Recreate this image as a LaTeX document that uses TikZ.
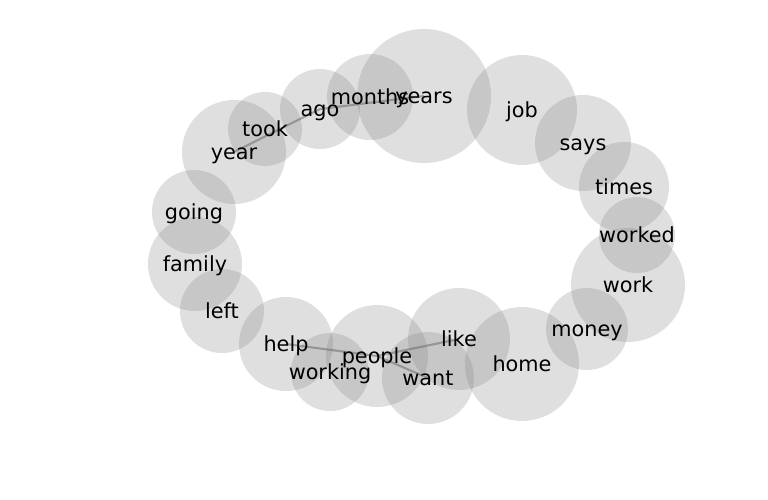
\documentclass[tikz,border=0pt]{standalone}
\usepackage{fontspec}
\setmainfont{DejaVu Sans}
\usepackage{tikz}
\definecolor{bubblegray}{RGB}{128, 128, 128}
\definecolor{linkgray}{RGB}{110, 110, 110}

\begin{document}
\begin{tikzpicture}[x=0.75pt, y=-0.75pt,
    bubble/.style={circle, inner sep=0pt, fill=bubblegray, fill opacity=0.25, minimum size=2*#1},
    word/.style={font=\fontsize{15.6}{18}\selectfont, text=black, inner sep=0pt,
      text height=13.4pt, text depth=2.2pt},
    link/.style={linkgray, line width=1.6pt, opacity=0.55}]
  \useasboundingbox (0, 0) rectangle (768, 500);

  % Bubbles
  \foreach \w/\x/\y/\r in {years/424/96/67, months/370/97/43, ago/320/109/40, took/265/129/37,
      year/234/152/52, job/522/110/55, says/583/143/48, times/624/187/45, worked/637/235/38,
      work/628/285/57, money/587/329/41, home/522/364/57, like/459/339/51, want/428/378/46,
      people/377/356/51, working/330/372/39, help/286/344/47, left/222/311/42,
      family/195/264/47, going/194/212/42}
    \node[bubble=\r*0.75pt] (\w) at (\x, \y) {};

  % Links
  \draw[link] (year.center) -- (ago.center);
  \draw[link] (ago.center) -- (years.center);
  \draw[link] (help.center) -- (people.center);
  \draw[link] (people.center) -- (like.center);
  \draw[link] (people.center) -- (want.center);

  % Words
  \foreach \w in {years, months, ago, took, year, job, says, times, worked, work,
      money, home, like, want, people, working, help, left, family, going}
    \node[word] (\w-label) at (\w) {\w};
\end{tikzpicture}
\end{document}
